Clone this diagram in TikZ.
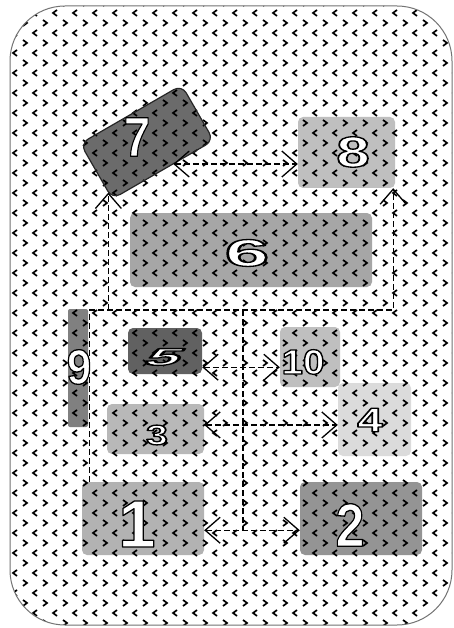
\documentclass[tikz,border=0pt]{standalone}
\usepackage{fontspec}
\setmainfont{Liberation Sans}
\usetikzlibrary{arrows.meta,patterns,calc}
\pgfdeclarepatternformonly{chev}{\pgfpoint{-1pt}{-1pt}}{\pgfpoint{21pt}{21pt}}{\pgfpoint{20pt}{20pt}}{%
  \pgfsetlinewidth{1.7pt}%
  \pgfpathmoveto{\pgfpoint{3pt}{8pt}}\pgfpathlineto{\pgfpoint{7pt}{5pt}}\pgfpathlineto{\pgfpoint{3pt}{2pt}}%
  \pgfpathmoveto{\pgfpoint{17pt}{18pt}}\pgfpathlineto{\pgfpoint{13pt}{15pt}}\pgfpathlineto{\pgfpoint{17pt}{12pt}}%
  \pgfusepath{stroke}%
}
\newcommand{\dig}[2]{{\fontsize{#1}{#1}\selectfont\bfseries\special{pdf:code 2 Tr 0 G 1.3 w 1 j}#2\special{pdf:code 0 Tr}}}
\tikzset{
  box/.style={rounded corners=5pt, inner sep=0pt, draw=none},
  lab/.style={inner sep=0pt, text=white},
  conn/.style={dashed, dash pattern=on 6pt off 3pt, line width=1.3pt, draw=black},
  barb/.tip={Straight Barb[length=15pt,width=26pt]},
  tip/.style={-barb},
  dtip/.style={barb-barb}
}
\begin{document}
\begin{tikzpicture}[x=1pt,y=-1pt]
\useasboundingbox (0,0) rectangle (454,628);
\fill[white] (0,0) rectangle (454,628);
% boxes
\node[box, fill=black!58, minimum width=117pt, minimum height=64pt, rotate=30, rounded corners=9pt] (n7) at (147,142) {};
\node[box, fill=black!25, minimum width=97pt, minimum height=71pt] (n8) at (346.5,152.5) {};
\node[box, fill=black!35, minimum width=242pt, minimum height=74pt] (n6) at (251,250) {};
\node[box, fill=black!50, minimum width=20pt, minimum height=118pt, rounded corners=2pt] (n9) at (78,368) {};
\node[box, fill=black!62, minimum width=74pt, minimum height=46pt] (n5) at (165,351) {};
\node[box, fill=black!25, minimum width=60pt, minimum height=60pt] (n10) at (310,357) {};
\node[box, fill=black!28, minimum width=97pt, minimum height=50pt] (n3) at (155.5,429) {};
\node[box, fill=black!14, minimum width=73pt, minimum height=73pt] (n4) at (374.5,419.5) {};
\node[box, fill=black!30, minimum width=122pt, minimum height=73pt] (n1) at (143,518.5) {};
\node[box, fill=black!42, minimum width=122pt, minimum height=73pt] (n2) at (361,518.5) {};
% background pattern
\path[pattern=chev, pattern color=black, rounded corners=55pt] (10,6) rectangle (452,625);
\draw[black!55, line width=1pt, rounded corners=55pt] (10,6) rectangle (452,625);
\draw[black!85, line width=1.2pt, rounded corners=9pt, rotate around={30:(147,142)}] (88.5,110) rectangle (205.5,174);
% connectors
\coordinate (hl) at (0,310);
\coordinate (vx) at (243,0);
\coordinate (a7) at ($(n7.south west)!0.6!(n7.south east)$);
\coordinate (a7b) at ($(n7.south west)!0.12!(n7.north west)$);
\coordinate (a8b) at ($(n8.south east)+(-2,0)$);
\coordinate (c1) at ($(n1.north west)+(8,0)$);
\coordinate (p1) at ($(n1.south east)!0.34!(n1.north east)$);
\coordinate (p5) at ($(n5.south east)!0.15!(n5.north east)$);
\coordinate (p3) at ($(n3.south east)!0.58!(n3.north east)$);
\draw[conn, dtip] (a7) -- (a7 -| n8.west);
\draw[conn, tip] (c1) |- (a8b |- hl) -- (a8b);
\draw[conn, tip] (a7b |- hl) -- (a7b);
\draw[conn] (vx |- hl) -- (vx |- p1);
\draw[conn, dtip] (p1) -- (p1 -| n2.west);
\draw[conn, dtip] (p5) -- (p5 -| n10.west);
\draw[conn, dtip] (p3) -- (p3 -| n4.west);
% labels
\node[lab, xscale=0.85] (l7) at (137,137) {\dig{56}{7}};
\node[lab, xscale=1.4] (l8) at (353,152) {\dig{43}{8}};
\node[lab, xscale=2.1] (l6) at (247,253) {\dig{38}{6}};
\node[lab, xscale=0.9] (l9) at (79,367) {\dig{49}{9}};
\node[lab, xscale=2.6, xslant=0.3] (l5) at (165,357) {\dig{24}{5}};
\node[lab, xscale=1.1] (l10) at (303,362) {\dig{35}{10}};
\node[lab, xscale=1.4] (l3) at (157,435) {\dig{28}{3}};
\node[lab, xscale=1.35] (l4) at (370,420) {\dig{34}{4}};
\node[lab] (l1) at (137,524) {\dig{67}{1}};
\node[lab, xscale=0.85] (l2) at (350,525) {\dig{61}{2}};
\end{tikzpicture}
\end{document}
